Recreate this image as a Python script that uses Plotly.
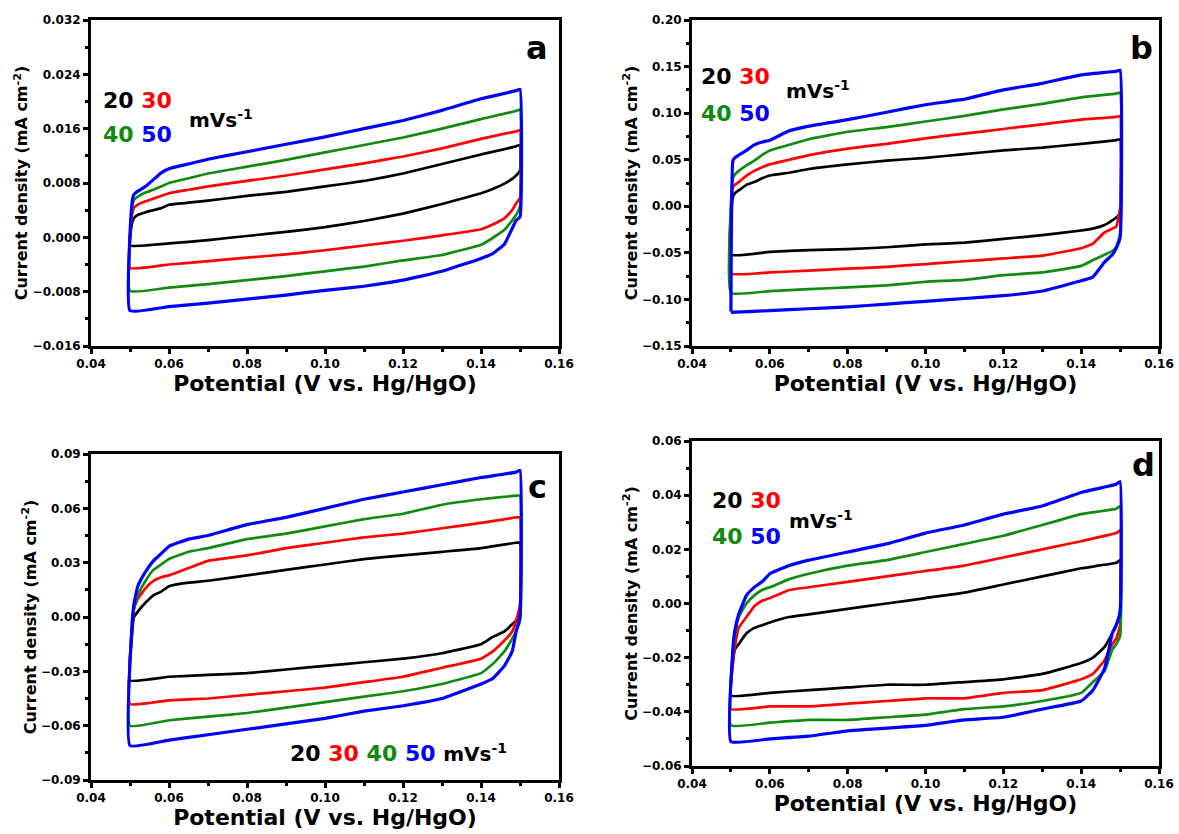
import plotly.graph_objects as go

# ---------------- data ----------------
# shared potential grid (V vs Hg/HgO): anodic (forward) and cathodic (reverse) branch
UP_X = [0.0500, 0.0505, 0.0510, 0.0520, 0.0540, 0.0560, 0.0580, 0.0600, 0.0650, 0.0700,
        0.0800, 0.0900, 0.1000, 0.1100, 0.1200, 0.1300, 0.1400, 0.1490, 0.1500]
DOWN_X = [0.1500, 0.1490, 0.1480, 0.1460, 0.1430, 0.1400, 0.1300, 0.1200, 0.1100, 0.1000,
          0.0900, 0.0800, 0.0700, 0.0600, 0.0500]

RATES = ["20", "30", "40", "50"]
COLORS = ["#000000", "#ff0000", "#108a10", "#0000ff"]

# panel a
A20_UP = [-0.0012, 0.0020, 0.0028, 0.0033, 0.0037, 0.0040, 0.0043, 0.0048, 0.0051, 0.0054,
          0.0061, 0.0067, 0.0075, 0.0083, 0.0094, 0.0108, 0.0122, 0.0134, 0.0136]
A20_DOWN = [0.0098, 0.0091, 0.0086, 0.0079, 0.0071, 0.0065, 0.0049, 0.0035, 0.0024, 0.0015,
            0.0008, 0.0002, -0.0004, -0.0009, -0.0012]
A30_UP = [-0.0045, 0.0032, 0.0043, 0.0048, 0.0053, 0.0057, 0.0061, 0.0065, 0.0070, 0.0075,
          0.0083, 0.0091, 0.0100, 0.0109, 0.0119, 0.0131, 0.0145, 0.0156, 0.0158]
A30_DOWN = [0.0058, 0.0050, 0.0040, 0.0028, 0.0019, 0.0012, 0.0003, -0.0005, -0.0012, -0.0019,
            -0.0025, -0.0030, -0.0035, -0.0040, -0.0045]
A40_UP = [-0.0079, 0.0042, 0.0055, 0.0060, 0.0066, 0.0070, 0.0075, 0.0080, 0.0087, 0.0094,
          0.0104, 0.0114, 0.0125, 0.0136, 0.0147, 0.0160, 0.0174, 0.0186, 0.0188]
A40_DOWN = [0.0045, 0.0033, 0.0025, 0.0011, -0.0001, -0.0011, -0.0026, -0.0034, -0.0043, -0.0050,
            -0.0057, -0.0063, -0.0069, -0.0074, -0.0079]
A50_UP = [-0.0108, 0.0050, 0.0063, 0.0068, 0.0075, 0.0085, 0.0095, 0.0101, 0.0108, 0.0115,
          0.0126, 0.0137, 0.0148, 0.0160, 0.0172, 0.0187, 0.0204, 0.0216, 0.0218]
A50_DOWN = [0.0030, 0.0025, 0.0013, -0.0010, -0.0024, -0.0031, -0.0050, -0.0063, -0.0072, -0.0078,
            -0.0085, -0.0091, -0.0097, -0.0102, -0.0108]

# panel b
B20_UP = [-0.052, 0.010, 0.014, 0.017, 0.023, 0.026, 0.030, 0.033, 0.036, 0.040,
          0.045, 0.049, 0.052, 0.056, 0.060, 0.063, 0.067, 0.071, 0.072]
B20_DOWN = [-0.008, -0.012, -0.015, -0.020, -0.024, -0.026, -0.031, -0.035, -0.039, -0.041,
            -0.044, -0.046, -0.047, -0.049, -0.052]
B30_UP = [-0.072, 0.020, 0.023, 0.026, 0.033, 0.038, 0.042, 0.045, 0.050, 0.055,
          0.062, 0.067, 0.073, 0.078, 0.083, 0.088, 0.093, 0.096, 0.097]
B30_DOWN = [-0.002, -0.022, -0.024, -0.028, -0.040, -0.045, -0.053, -0.056, -0.059, -0.062,
            -0.065, -0.067, -0.069, -0.071, -0.072]
B40_UP = [-0.093, 0.030, 0.034, 0.038, 0.044, 0.049, 0.055, 0.060, 0.066, 0.072,
          0.080, 0.085, 0.091, 0.097, 0.104, 0.110, 0.117, 0.121, 0.122]
B40_DOWN = [-0.030, -0.044, -0.048, -0.052, -0.058, -0.064, -0.071, -0.074, -0.079, -0.081,
            -0.085, -0.087, -0.089, -0.091, -0.093]
B50_UP = [-0.113, 0.049, 0.052, 0.055, 0.060, 0.066, 0.069, 0.071, 0.081, 0.086,
          0.093, 0.101, 0.109, 0.115, 0.125, 0.132, 0.141, 0.145, 0.146]
B50_DOWN = [-0.034, -0.045, -0.052, -0.060, -0.076, -0.080, -0.091, -0.096, -0.099, -0.102,
            -0.105, -0.108, -0.110, -0.112, -0.114]

# panel c
C20_UP = [-0.035, -0.010, 0.000, 0.003, 0.008, 0.012, 0.014, 0.017, 0.019, 0.020,
          0.023, 0.026, 0.029, 0.032, 0.034, 0.036, 0.038, 0.041, 0.041]
C20_DOWN = [0.004, -0.002, -0.004, -0.008, -0.011, -0.015, -0.020, -0.023, -0.025, -0.027,
            -0.029, -0.031, -0.032, -0.033, -0.035]
C30_UP = [-0.048, -0.008, 0.004, 0.010, 0.016, 0.020, 0.022, 0.023, 0.027, 0.031,
          0.034, 0.038, 0.041, 0.044, 0.046, 0.049, 0.052, 0.055, 0.055]
C30_DOWN = [0.007, -0.002, -0.008, -0.013, -0.019, -0.023, -0.028, -0.033, -0.036, -0.039,
            -0.041, -0.043, -0.045, -0.046, -0.048]
C40_UP = [-0.060, -0.005, 0.005, 0.012, 0.020, 0.026, 0.029, 0.032, 0.036, 0.038,
          0.043, 0.046, 0.050, 0.054, 0.057, 0.062, 0.065, 0.067, 0.067]
C40_DOWN = [-0.002, -0.008, -0.012, -0.019, -0.026, -0.031, -0.037, -0.041, -0.044, -0.047,
            -0.050, -0.053, -0.055, -0.057, -0.060]
C50_UP = [-0.071, -0.005, 0.007, 0.017, 0.025, 0.031, 0.035, 0.039, 0.043, 0.045,
          0.051, 0.055, 0.060, 0.065, 0.069, 0.073, 0.077, 0.080, 0.081]
C50_DOWN = [0.000, -0.008, -0.019, -0.027, -0.034, -0.037, -0.045, -0.049, -0.052, -0.056,
            -0.059, -0.062, -0.065, -0.068, -0.071]

# panel d
D20_UP = [-0.034, -0.022, -0.017, -0.015, -0.011, -0.009, -0.008, -0.007, -0.005, -0.004,
          -0.002, 0.000, 0.002, 0.004, 0.007, 0.010, 0.013, 0.015, 0.016]
D20_DOWN = [-0.003, -0.008, -0.011, -0.016, -0.020, -0.022, -0.026, -0.028, -0.029, -0.030,
            -0.030, -0.031, -0.032, -0.033, -0.034]
D30_UP = [-0.039, -0.022, -0.016, -0.009, -0.005, -0.001, 0.001, 0.002, 0.005, 0.006,
          0.008, 0.010, 0.012, 0.014, 0.017, 0.020, 0.023, 0.026, 0.027]
D30_DOWN = [-0.008, -0.013, -0.015, -0.021, -0.026, -0.028, -0.032, -0.033, -0.035, -0.035,
            -0.036, -0.037, -0.038, -0.038, -0.039]
D40_UP = [-0.045, -0.018, -0.012, -0.005, 0.000, 0.003, 0.005, 0.006, 0.009, 0.011,
          0.014, 0.016, 0.019, 0.022, 0.025, 0.029, 0.033, 0.035, 0.036]
D40_DOWN = [-0.012, -0.015, -0.017, -0.025, -0.029, -0.033, -0.036, -0.038, -0.039, -0.041,
            -0.042, -0.043, -0.043, -0.044, -0.045]
D50_UP = [-0.051, -0.017, -0.010, -0.004, 0.003, 0.006, 0.008, 0.011, 0.014, 0.016,
          0.019, 0.022, 0.026, 0.029, 0.033, 0.036, 0.041, 0.044, 0.045]
D50_DOWN = [-0.003, -0.008, -0.011, -0.024, -0.032, -0.036, -0.039, -0.042, -0.043, -0.045,
            -0.046, -0.047, -0.049, -0.050, -0.051]

PANEL_LABELS = ["a", "b", "c", "d"]
Y_RANGES = [(-0.016, 0.032), (-0.15, 0.20), (-0.09, 0.09), (-0.06, 0.06)]
Y_DTICKS = [0.008, 0.05, 0.03, 0.02]
Y_FORMATS = [".3f", ".2f", ".2f", ".2f"]
X_RANGE = (0.04, 0.16)
X_TITLE = "Potential (V vs. Hg/HgO)"
Y_TITLE = "Current density (mA cm<sup>-2</sup>)"

PANEL_DATA = [
    [(A20_UP, A20_DOWN), (A30_UP, A30_DOWN), (A40_UP, A40_DOWN), (A50_UP, A50_DOWN)],
    [(B20_UP, B20_DOWN), (B30_UP, B30_DOWN), (B40_UP, B40_DOWN), (B50_UP, B50_DOWN)],
    [(C20_UP, C20_DOWN), (C30_UP, C30_DOWN), (C40_UP, C40_DOWN), (C50_UP, C50_DOWN)],
    [(D20_UP, D20_DOWN), (D30_UP, D30_DOWN), (D40_UP, D40_DOWN), (D50_UP, D50_DOWN)],
]

# ---------------- layout ----------------
W, H = 1179, 834
# page-pixel boxes of each plot area: (left, right, top, bottom)
BOXES = [(91, 559, 20, 346), (692, 1159, 20, 346), (91, 559, 454, 780), (692, 1159, 441, 766)]

FONT = "DejaVu Sans, Liberation Sans, Arial, sans-serif"

fig = go.Figure()
layout = dict(width=W, height=H, margin=dict(l=0, r=0, t=0, b=0, autoexpand=False),
              paper_bgcolor="white", plot_bgcolor="white", showlegend=False,
              font=dict(family=FONT, color="black"))

for i in range(4):
    n = "" if i == 0 else str(i + 1)
    l, r, t, b = BOXES[i]
    xdom = [l / W, r / W]
    ydom = [1 - b / H, 1 - t / H]
    axis_common = dict(showline=True, linecolor="black", linewidth=3, mirror=True,
                       showgrid=False, zeroline=False, ticks="outside", ticklen=5,
                       tickwidth=2.5, tickcolor="black", automargin=False,
                       tickprefix="<b>", ticksuffix="</b>",
                       tickfont=dict(family=FONT, size=12, color="black", weight="bold"))
    layout["xaxis" + n] = dict(axis_common, domain=xdom, range=list(X_RANGE), dtick=0.02,
                               tick0=0.04, tickformat=".2f", anchor="y" + n,
                               minor=dict(ticks="outside", ticklen=3, tickwidth=2.5,
                                          dtick=0.01, tick0=0.04, tickcolor="black"),
                               title=dict(text="<b>" + X_TITLE + "</b>", standoff=5,
                                          font=dict(family=FONT, size=22, weight="bold")))
    y0, y1 = Y_RANGES[i]
    layout["yaxis" + n] = dict(axis_common, domain=ydom, range=[y0, y1], dtick=Y_DTICKS[i],
                               tick0=y0, tickformat=Y_FORMATS[i], anchor="x" + n,
                               minor=dict(ticks="outside", ticklen=3, tickwidth=2.5,
                                          dtick=Y_DTICKS[i] / 2, tick0=y0, tickcolor="black"),
                               title=dict(text="<b>" + Y_TITLE + "</b>", standoff=1,
                                          font=dict(family=FONT, size=16, weight="bold")))
    for k, (up, down) in enumerate(PANEL_DATA[i]):
        fig.add_trace(go.Scatter(x=UP_X + DOWN_X, y=up + down, mode="lines",
                                 name=RATES[k] + " mV/s",
                                 line=dict(color=COLORS[k], width=3.2 if k == 3 else 2.7,
                                           shape="spline", smoothing=0.35),
                                 xaxis="x" + n, yaxis="y" + n))

fig.update_layout(**layout)


def span(txt, col):
    return '<span style="color:%s">%s</span>' % (col, txt)


annotations = []
ref = [("x domain", "y domain"), ("x2 domain", "y2 domain"),
       ("x3 domain", "y3 domain"), ("x4 domain", "y4 domain")]
LETTER_POS = [(0.952, 0.915), (0.962, 0.915), (0.953, 0.90), (0.966, 0.927)]
for i in range(4):
    xr, yr = ref[i]
    annotations.append(dict(xref=xr, yref=yr, x=LETTER_POS[i][0], y=LETTER_POS[i][1],
                            xanchor="center", yanchor="middle",
                            text="<b>%s</b>" % PANEL_LABELS[i], showarrow=False,
                            font=dict(family=FONT, size=32, color="black")))

line1 = "<b>" + span(RATES[0], COLORS[0]) + " " + span(RATES[1], COLORS[1]) + "</b>"
line2 = "<b>" + span(RATES[2], COLORS[2]) + " " + span(RATES[3], COLORS[3]) + "</b>"
unit = "<b>mVs<sup>-1</sup></b>"
# two-row rate labels for a, b, d
ROWS = {0: (0.022, 0.754, 0.650, 0.205, 0.695),
        1: (0.016, 0.826, 0.713, 0.198, 0.785),
        3: (0.038, 0.816, 0.707, 0.204, 0.758)}
for i, (xl, yr1, yr2, xu, yu) in ROWS.items():
    xr, yr = ref[i]
    annotations.append(dict(xref=xr, yref=yr, x=xl, y=yr1, xanchor="left", yanchor="middle",
                            text=line1, showarrow=False, font=dict(family=FONT, size=22)))
    annotations.append(dict(xref=xr, yref=yr, x=xl, y=yr2, xanchor="left", yanchor="middle",
                            text=line2, showarrow=False, font=dict(family=FONT, size=22)))
    annotations.append(dict(xref=xr, yref=yr, x=xu, y=yu, xanchor="left", yanchor="middle",
                            text=unit, showarrow=False, font=dict(family=FONT, size=20)))
# single-row label for c
row_c = "<b>" + " ".join(span(RATES[k], COLORS[k]) for k in range(4)) + \
        ' <span style="font-size:20px">mVs<sup>-1</sup></span></b>'
annotations.append(dict(xref="x3 domain", yref="y3 domain", x=0.42, y=0.084, xanchor="left",
                        yanchor="middle", text=row_c, showarrow=False,
                        font=dict(family=FONT, size=22)))

fig.update_layout(annotations=annotations)
# remove the default page margin so the 1179x834 figure fills the window exactly
fig.write_html("out.html", config={"displayModeBar": False},
               post_script="document.body.style.margin='0';"
                           "document.body.style.overflow='hidden';")
